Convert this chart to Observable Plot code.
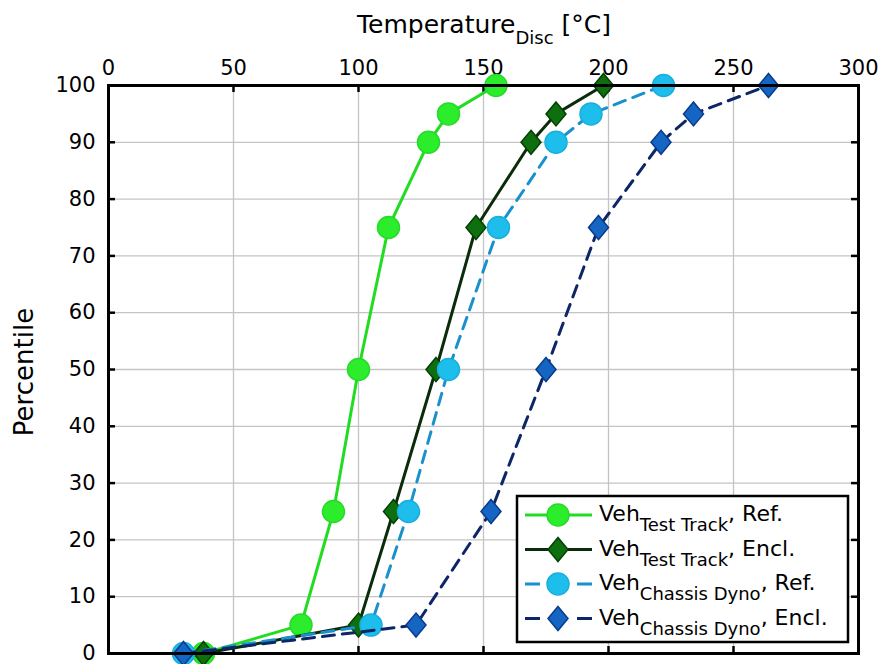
<!DOCTYPE html>
<html><head><meta charset="utf-8">
<script src="https://cdn.jsdelivr.net/npm/d3@7"></script>
<script src="https://cdn.jsdelivr.net/npm/@observablehq/plot@0.6"></script>
<style>
body{margin:0;background:#fff;}
#chart svg{display:block;}
</style>
</head><body><div id="chart"></div>
<script>
const percentiles = [0, 5, 25, 50, 75, 90, 95, 100];
const testTrackRef   = [38, 77, 90, 100, 112, 128, 136, 155];
const testTrackEncl  = [38, 100, 114, 131, 147, 169, 179, 198];
const chassisDynoRef = [30, 105, 120, 136, 156, 179, 193, 222];
const chassisDynoEncl= [30, 123, 153, 175, 196, 221, 234, 264];
const xTicks = [0, 50, 100, 150, 200, 250, 300];
const yTicks = [0, 10, 20, 30, 40, 50, 60, 70, 80, 90, 100];
const seriesSubs = ["Test Track", "Test Track", "Chassis Dyno", "Chassis Dyno"];
const seriesTags = ["Ref.", "Encl.", "Ref.", "Encl."];

// squat diamond (taller than wide, but less than d3's)
const squatDiamond = {
  draw(ctx, size) {
    const r = Math.sqrt(size / Math.PI), h = r * 1.2, w = r * 1.0;
    ctx.moveTo(0, -h); ctx.lineTo(w, 0); ctx.lineTo(0, h); ctx.lineTo(-w, 0); ctx.closePath();
  }
};

const styles = [
  {line:"#22dc22", dash:null, symbol:d3.symbolCircle, fill:"#2ced2c", stroke:"#28da28", r:11},
  {line:"#0a2c0a", dash:null, symbol:squatDiamond, fill:"#0d6f0d", stroke:"#064006", r:10},
  {line:"#1a90cc", dash:"12,8", symbol:d3.symbolCircle, fill:"#1dbdec", stroke:"#1aaede", r:11},
  {line:"#0d2766", dash:"12,8", symbol:squatDiamond, fill:"#1565c2", stroke:"#0b3b8c", r:10}
];
const allSeries = [testTrackRef, testTrackEncl, chassisDynoRef, chassisDynoEncl];
const data = allSeries.map(vals => vals.map((t, i) => ({t, p: percentiles[i]})));

const W = 884, H = 664, mL = 108, mR = 26, mT = 85, mB = 11;
const pw = W - mL - mR, ph = H - mT - mB, tk = 7;
const FONT = "'DejaVu Sans', Verdana, sans-serif";

const marks = [
  Plot.gridX(xTicks, {stroke:"#c4c4c4", strokeOpacity:1, strokeWidth:1.3}),
  Plot.gridY(yTicks, {stroke:"#c4c4c4", strokeOpacity:1, strokeWidth:1.3}),
  Plot.ruleX(xTicks, {x:d=>d, insetBottom: ph - tk, stroke:"#000", strokeWidth:2.5}),
  Plot.ruleX(xTicks, {x:d=>d, insetTop: ph - tk, stroke:"#000", strokeWidth:2.5}),
  Plot.ruleY(yTicks, {y:d=>d, insetRight: pw - tk, stroke:"#000", strokeWidth:2.5}),
  Plot.ruleY(yTicks, {y:d=>d, insetLeft: pw - tk, stroke:"#000", strokeWidth:2.5}),
  Plot.axisX(xTicks, {anchor:"top", tickSize:0, tickPadding:11, fontSize:21, label:null}),
  Plot.axisY(yTicks, {anchor:"left", tickSize:0, tickPadding:13, fontSize:21, label:null})
];
data.forEach((d, i) => {
  const s = styles[i];
  marks.push(Plot.line(d, {x:"t", y:"p", stroke:s.line, strokeWidth:3, strokeDasharray:s.dash}));
  marks.push(Plot.dot(d, {x:"t", y:"p", symbol:s.symbol, r:s.r, fill:s.fill, stroke:s.stroke, strokeWidth:1.5}));
});
marks.push(Plot.frame({stroke:"#000", strokeWidth:3}));

const chart = Plot.plot({
  width: W, height: H,
  marginLeft: mL, marginRight: mR, marginTop: mT, marginBottom: mB,
  style: {fontFamily: FONT, color:"#000", background:"#fff", overflow:"visible"},
  x: {domain:[0,300]},
  y: {domain:[0,100]},
  marks
});
document.getElementById("chart").appendChild(chart);

const svg = d3.select(chart);
// Title
const title = svg.append("text").attr("x", 484).attr("y", 33).attr("text-anchor","middle")
  .attr("font-family", FONT).attr("font-size", 25).attr("fill","#000");
title.append("tspan").text("Temperature");
title.append("tspan").attr("dy", 11).attr("font-size", 18).text("Disc");
title.append("tspan").attr("dy", -11).text(" [\u00B0C]");
// Y label
svg.append("text").attr("transform", "translate(33,372) rotate(-90)")
  .attr("text-anchor","middle").attr("font-family", FONT).attr("font-size", 26).attr("fill","#000").text("Percentile");

// Legend
const lg = svg.append("g").attr("text-anchor", "start");
const lx = 517, ly = 496, lw = 331, lh = 146;
lg.append("rect").attr("x", lx).attr("y", ly).attr("width", lw).attr("height", lh)
  .attr("fill","#fff").attr("stroke","#000").attr("stroke-width", 2.5);
styles.forEach((s, i) => {
  const cy = ly + 19 + i * 34.5;
  lg.append("line").attr("x1", lx + 8).attr("x2", lx + 75).attr("y1", cy).attr("y2", cy)
    .attr("stroke", s.line).attr("stroke-width", 3).attr("stroke-dasharray", s.dash ? "15,37" : null);
  lg.append("path").attr("d", d3.symbol(s.symbol, Math.PI * s.r * s.r)())
    .attr("transform", `translate(${lx + 41},${cy})`)
    .attr("fill", s.fill).attr("stroke", s.stroke).attr("stroke-width", 1.5);
  const t = lg.append("text").attr("x", lx + 82).attr("y", cy + 6)
    .attr("font-family", FONT).attr("font-size", 22).attr("fill", "#000").attr("text-anchor", "start");
  t.append("tspan").text("Veh");
  t.append("tspan").attr("dy", 10).attr("font-size", 18).text(seriesSubs[i]);
  t.append("tspan").attr("dy", -10).text(", " + seriesTags[i]);
});
</script>
</body></html>
